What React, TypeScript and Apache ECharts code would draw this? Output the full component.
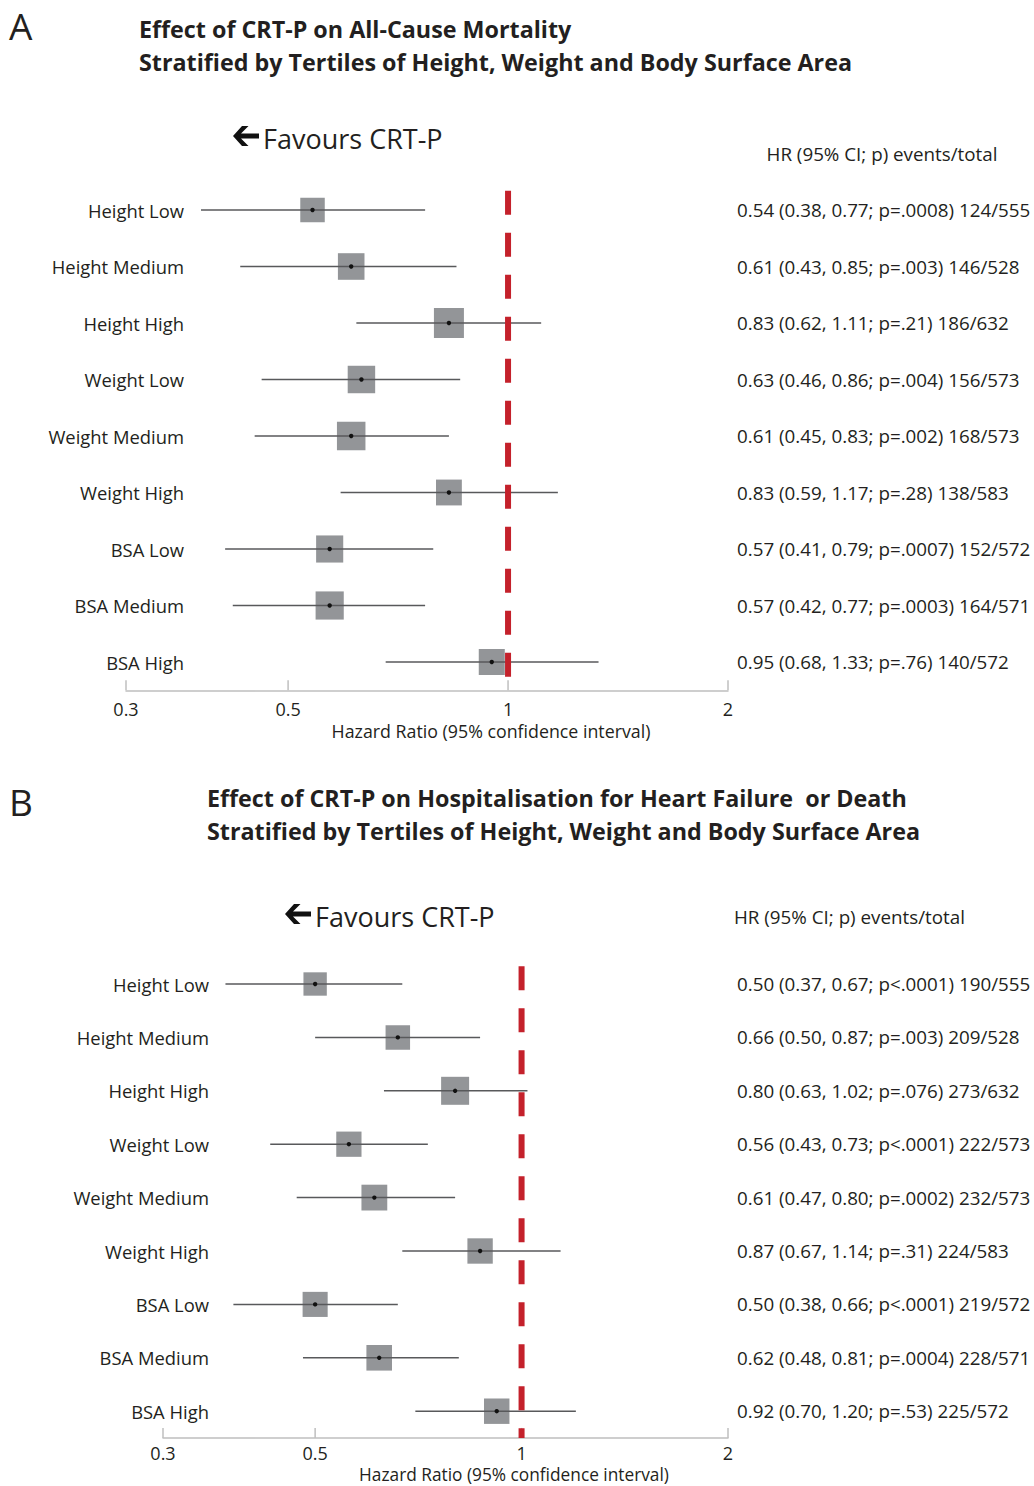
import React, { useEffect, useRef } from "react";
import * as echarts from "echarts";

// ---------- data ----------
const rowLabels = [
  "Height Low",
  "Height Medium",
  "Height High",
  "Weight Low",
  "Weight Medium",
  "Weight High",
  "BSA Low",
  "BSA Medium",
  "BSA High",
];

// Panel A: all-cause mortality
const hrA = [0.54, 0.61, 0.83, 0.63, 0.61, 0.83, 0.57, 0.57, 0.95];
const loA = [0.38, 0.43, 0.62, 0.46, 0.45, 0.59, 0.41, 0.42, 0.68];
const hiA = [0.77, 0.85, 1.11, 0.86, 0.83, 1.17, 0.79, 0.77, 1.33];
const pA = ["=.0008", "=.003", "=.21", "=.004", "=.002", "=.28", "=.0007", "=.0003", "=.76"];
const eventsA = [124, 146, 186, 156, 168, 138, 152, 164, 140];
const totalA = [555, 528, 632, 573, 573, 583, 572, 571, 572];

// Panel B: HF hospitalisation or death
const hrB = [0.5, 0.66, 0.8, 0.56, 0.61, 0.87, 0.5, 0.62, 0.92];
const loB = [0.37, 0.5, 0.63, 0.43, 0.47, 0.67, 0.38, 0.48, 0.7];
const hiB = [0.67, 0.87, 1.02, 0.73, 0.8, 1.14, 0.66, 0.81, 1.2];
const pB = ["<.0001", "=.003", "=.076", "<.0001", "=.0002", "=.31", "<.0001", "=.0004", "=.53"];
const eventsB = [190, 209, 273, 222, 232, 224, 219, 228, 225];
const totalB = [555, 528, 632, 573, 573, 583, 572, 571, 572];

const xTicks = [0.3, 0.5, 1, 2];
const refValue = 1;

const titleA = [
  "Effect of CRT-P on All-Cause Mortality",
  "Stratified by Tertiles of Height, Weight and Body Surface Area",
];
const titleB = [
  "Effect of CRT-P on Hospitalisation for Heart Failure  or Death",
  "Stratified by Tertiles of Height, Weight and Body Surface Area",
];
const headerText = "HR (95% CI; p) events/total";
const favoursText = "Favours CRT-P";
const axisTitle = "Hazard Ratio (95% confidence interval)";

// ---------- helpers ----------
const FONT = "'Open Sans', 'Noto Sans', sans-serif";
const TEXT = "#231f20";

function statLines(hr: number[], lo: number[], hi: number[], p: string[], ev: number[], tot: number[]) {
  return hr.map(
    (h, i) => `${h.toFixed(2)} (${lo[i].toFixed(2)}, ${hi[i].toFixed(2)}; p${p[i]}) ${ev[i]}/${tot[i]}`
  );
}

function forestData(hr: number[], lo: number[], hi: number[], ev: number[]) {
  return hr.map((h, i) => [h, i, lo[i], hi[i], ev[i]]);
}

function forestSeries(xi: number, yi: number, data: number[][], maxBox: number) {
  const maxEv = Math.max(...data.map((d) => d[4]));
  return {
    type: "custom",
    xAxisIndex: xi,
    yAxisIndex: yi,
    encode: { x: 0, y: 1 },
    data,
    z: 2,
    renderItem: (params: any, api: any) => {
      const hr = api.value(0);
      const row = api.value(1);
      const lo = api.value(2);
      const hi = api.value(3);
      const ev = api.value(4);
      const c = api.coord([hr, row]);
      const l = api.coord([lo, row]);
      const h = api.coord([hi, row]);
      const s = maxBox * Math.sqrt(ev / maxEv);
      return {
        type: "group",
        children: [
          {
            type: "rect",
            shape: { x: c[0] - s / 2, y: c[1] - s / 2, width: s, height: s },
            style: { fill: "#939598" },
          },
          {
            type: "line",
            shape: { x1: l[0], y1: c[1], x2: h[0], y2: c[1] },
            style: { stroke: "#58595b", lineWidth: 1.5 },
          },
          {
            type: "circle",
            shape: { cx: c[0], cy: c[1], r: 2.2 },
            style: { fill: "#111111" },
          },
        ],
      };
    },
  };
}

function tickSeries(xi: number, yi: number, labelGap: number) {
  return {
    type: "custom",
    xAxisIndex: xi,
    yAxisIndex: yi,
    encode: { x: 0, y: 1 },
    data: xTicks.map((v) => [v, 0]),
    z: 3,
    renderItem: (params: any, api: any) => {
      const v = api.value(0);
      const p = api.coord([v, 0]);
      const bottom = params.coordSys.y + params.coordSys.height;
      return {
        type: "group",
        children: [
          {
            type: "line",
            shape: { x1: p[0], y1: bottom, x2: p[0], y2: bottom - 10 },
            style: { stroke: "#bfbfbf", lineWidth: 1.5 },
          },
          {
            type: "text",
            x: p[0],
            y: bottom + labelGap,
            style: {
              text: String(v),
              fontSize: 18,
              lineHeight: 16,
              fontFamily: FONT,
              fill: TEXT,
              textAlign: "center",
              textVerticalAlign: "middle",
            },
          },
        ],
      };
    },
  };
}

function refSeries(xi: number, yi: number) {
  return {
    type: "custom",
    xAxisIndex: xi,
    yAxisIndex: yi,
    encode: { x: 0, y: 1 },
    data: [[refValue, 0]],
    z: 4,
    renderItem: (params: any, api: any) => {
      const p = api.coord([api.value(0), 0]);
      const top = params.coordSys.y;
      const bottom = params.coordSys.y + params.coordSys.height;
      return {
        type: "line",
        shape: { x1: p[0], y1: top, x2: p[0], y2: bottom },
        style: {
          stroke: "#c4212b",
          lineWidth: 6,
          lineDash: [24, 18],
          lineDashOffset: 33,
        },
      };
    },
  };
}

function arrow(tipX: number, cy: number) {
  return {
    type: "polygon",
    x: tipX,
    y: cy,
    shape: {
      points: [
        [0, 0],
        [9, -10],
        [15.5, -10],
        [8, -2.4],
        [26, -2.4],
        [26, 2.4],
        [8, 2.4],
        [15.5, 10],
        [9, 10],
      ],
    },
    style: { fill: "#111111" },
  };
}

function txt(x: number, y: number, text: string, size: number, opts: any = {}) {
  return {
    type: "text",
    x,
    y,
    style: {
      text,
      fontSize: size,
      lineHeight: opts.lineHeight || undefined,
      fontFamily: FONT,
      fontWeight: opts.bold ? "bold" : "normal",
      fill: TEXT,
      textAlign: opts.align || "left",
      textVerticalAlign: "middle",
    },
  };
}

export default function App() {
  const ref = useRef<HTMLDivElement>(null);

  useEffect(() => {
    if (!ref.current) return;
    const chart = echarts.init(ref.current, undefined, { renderer: "svg" });

    const statsA = statLines(hrA, loA, hiA, pA, eventsA, totalA);
    const statsB = statLines(hrB, loB, hiB, pB, eventsB, totalB);

    const xAxisBase = {
      type: "log",
      min: xTicks[0],
      max: xTicks[xTicks.length - 1],
      axisLine: { show: true, lineStyle: { color: "#bfbfbf", width: 1.5 } },
      axisTick: { show: false },
      axisLabel: { show: false },
      splitLine: { show: false },
    };

    const yLeft = (gi: number, margin: number) => ({
      type: "category",
      gridIndex: gi,
      data: rowLabels,
      inverse: true,
      axisLine: { show: false },
      axisTick: { show: false },
      axisLabel: {
        margin,
        fontSize: 18.4,
        fontFamily: FONT,
        color: TEXT,
      },
    });

    const yRight = (gi: number, stats: string[]) => ({
      type: "category",
      gridIndex: gi,
      position: "right",
      data: stats,
      inverse: true,
      axisLine: { show: false },
      axisTick: { show: false },
      axisLabel: {
        margin: 9,
        fontSize: 18.8,
        fontFamily: FONT,
        color: TEXT,
        align: "left",
      },
    });

    chart.setOption({
      animation: false,
      backgroundColor: "#ffffff",
      grid: [
        { left: 126, top: 181.75, width: 602, height: 508.5 },
        { left: 163, top: 957.3, width: 565, height: 480.6 },
      ],
      xAxis: [
        { ...xAxisBase, gridIndex: 0 },
        { ...xAxisBase, gridIndex: 1 },
      ],
      yAxis: [yLeft(0, -58), yRight(0, statsA), yLeft(1, -46), yRight(1, statsB)],
      series: [
        forestSeries(0, 0, forestData(hrA, loA, hiA, eventsA), 30),
        tickSeries(0, 0, 19),
        refSeries(0, 0),
        forestSeries(1, 2, forestData(hrB, loB, hiB, eventsB), 28),
        tickSeries(1, 2, 15),
        refSeries(1, 2),
      ],
      graphic: [
        txt(9, 25, "A", 37),
        txt(139, 29, titleA[0], 23.3, { bold: true }),
        txt(139, 62, titleA[1], 23.3, { bold: true }),
        arrow(233, 136),
        txt(263, 138, favoursText, 27),
        txt(882, 154, headerText, 18.8, { align: "center" }),
        txt(491, 731, axisTitle, 17.8, { align: "center", lineHeight: 17 }),

        txt(9, 801, "B", 37),
        txt(207, 798, titleB[0], 23.3, { bold: true }),
        txt(207, 831, titleB[1], 23.3, { bold: true }),
        arrow(285, 914),
        txt(315, 916, favoursText, 27),
        txt(734, 917, headerText, 18.8),
        txt(514, 1474.5, axisTitle, 17.3, { align: "center", lineHeight: 16 }),
      ],
    });

    return () => chart.dispose();
  }, []);

  return (
    <div
      ref={ref}
      style={{ position: "absolute", left: 0, top: 0, width: 1034, height: 1486, background: "#fff" }}
    />
  );
}
